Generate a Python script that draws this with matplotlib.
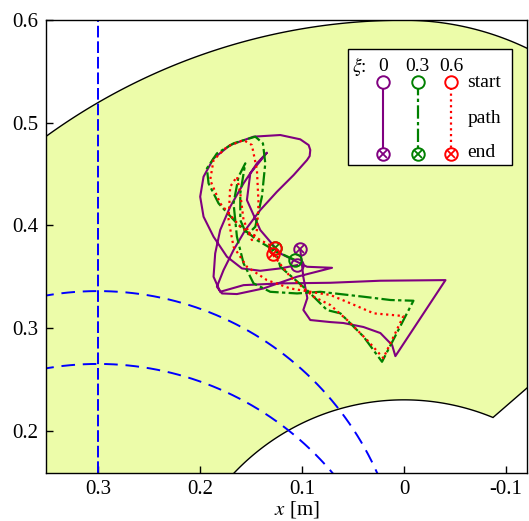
import numpy as np
import matplotlib
matplotlib.use("Agg")
import matplotlib.pyplot as plt
from matplotlib.patches import Polygon, Rectangle

plt.rcParams['font.family'] = ['Liberation Serif', 'DejaVu Serif']
plt.rcParams['mathtext.fontset'] = 'stix'

# ---------------- data ----------------
xi_values = ['0', '0.3', '0.6']
path_colors = ['#800080', '#008000', '#ff0000']

purple_x = [0.1048, 0.1212, 0.1408, 0.1588, 0.1735, 0.1866, 0.1964, 0.1997, 0.1964, 0.1866,
            0.1703, 0.1474, 0.1212, 0.1016, 0.0934, 0.0918, 0.0924, 0.0950, 0.1081, 0.1245,
            0.1408, 0.1555, 0.1670, 0.1768, 0.1833, 0.1784, 0.1637, 0.1376, 0.1048, 0.0705,
            0.0950, 0.1212, 0.1408, 0.1539, 0.1506, 0.1343, 0.1441, 0.1572, 0.1703, 0.1801,
            0.1850, 0.1866, 0.1801, 0.1572, 0.1212, 0.0722, 0.0231, -0.0407, 0.0084, 0.0116,
            0.0231, 0.0397, 0.0594, 0.0721, 0.0918, 0.0986, 0.0947, 0.0986, 0.1016]
purple_y = [0.3613, 0.3581, 0.3558, 0.3581, 0.3695, 0.3890, 0.4085, 0.4280, 0.4475, 0.4653,
            0.4783, 0.4865, 0.4881, 0.4839, 0.4783, 0.4735, 0.4676, 0.4637, 0.4491, 0.4328,
            0.4150, 0.3955, 0.3760, 0.3565, 0.3402, 0.3337, 0.3331, 0.3386, 0.3500, 0.3587,
            0.3597, 0.3727, 0.3955, 0.4247, 0.4507, 0.4709, 0.4605, 0.4410, 0.4182, 0.3955,
            0.3727, 0.3500, 0.3353, 0.3418, 0.3435, 0.3441, 0.3461, 0.3467, 0.2726, 0.2834,
            0.2951, 0.3010, 0.3049, 0.3058, 0.3078, 0.3176, 0.3292, 0.3497, 0.3766]

green_x = [0.1065, 0.1245, 0.1441, 0.1637, 0.1817, 0.1915, 0.1931, 0.1833, 0.1670, 0.1457,
           0.1382, 0.1359, 0.1392, 0.1457, 0.1539, 0.1604, 0.1604, 0.1555, 0.1621, 0.1670,
           0.1637, 0.1572, 0.1474, 0.1310, 0.1048, 0.0820, 0.0395, 0.0132, -0.0093, 0.0215,
           0.0395, 0.0623, 0.0754, 0.0950, 0.1212, 0.1261]
green_y = [0.3662, 0.3743, 0.3857, 0.4020, 0.4215, 0.4410, 0.4556, 0.4702, 0.4800, 0.4865,
           0.4800, 0.4605, 0.4280, 0.3987, 0.3906, 0.4052, 0.4312, 0.4605, 0.4475, 0.4215,
           0.3890, 0.3630, 0.3435, 0.3353, 0.3337, 0.3353, 0.3305, 0.3273, 0.3266, 0.2671,
           0.2915, 0.3143, 0.3175, 0.3370, 0.3597, 0.3776]

red_x = [0.1261, 0.1408, 0.1604, 0.1801, 0.1899, 0.1866, 0.1735, 0.1572, 0.1490, 0.1441,
         0.1425, 0.1441, 0.1490, 0.1572, 0.1604, 0.1637, 0.1703, 0.1719, 0.1670, 0.1539,
         0.1343, 0.1114, 0.0820, 0.0721, 0.0525, 0.0296, 0.0005, 0.0202, 0.0361, 0.0557,
         0.0721, 0.0885, 0.1114, 0.1287]
red_y = [0.3782, 0.3857, 0.3987, 0.4215, 0.4442, 0.4637, 0.4767, 0.4832, 0.4783, 0.4540,
         0.4215, 0.3955, 0.3857, 0.4052, 0.4312, 0.4475, 0.4377, 0.4052, 0.3792, 0.3597,
         0.3467, 0.3386, 0.3337, 0.3322, 0.3241, 0.3143, 0.3117, 0.2707, 0.2883, 0.3078,
         0.3224, 0.3305, 0.3500, 0.3717]

# workspace geometry (m)
outer_radius = 0.60
inner_radius = 0.23
right_arc_center = (0.0, 0.32)
right_arc_radius = 0.28
inner_corner_angle_deg = 112.3
lower_right_end = (-0.16, 0.2755)

# blue dashed reference lines
vline_x = 0.30
blue_arc_cx = 0.30
blue_arc_cy = [0.036, -0.037]
blue_arc_r = [0.300, 0.302]

xlim = (0.3513, -0.1206)
ylim = (0.1589, 0.6004)
xticks = [0.3, 0.2, 0.1, 0.0, -0.1]
xticklabels = ['0.3', '0.2', '0.1', '0', '-0.1']
yticks = [0.2, 0.3, 0.4, 0.5, 0.6]
yticklabels = ['0.2', '0.3', '0.4', '0.5', '0.6']

# ---------------- figure ----------------
fig = plt.figure(figsize=(5.29, 5.21), dpi=100)
ax = fig.add_axes([45.5 / 529, (521 - 472.8) / 521, 481.5 / 529, 453 / 521])
ax.set_xlim(*xlim)
ax.set_ylim(*ylim)

# workspace polygon
th_o = np.radians(np.linspace(0, 90, 200))
outer = np.column_stack([outer_radius * np.cos(th_o), outer_radius * np.sin(th_o)])
th_r = np.radians(np.linspace(90, 140, 80))
right = np.column_stack([right_arc_center[0] + right_arc_radius * np.cos(th_r),
                         right_arc_center[1] + right_arc_radius * np.sin(th_r)])
th_i = np.radians(np.linspace(inner_corner_angle_deg, 0, 200))
inner = np.column_stack([inner_radius * np.cos(th_i), inner_radius * np.sin(th_i)])
poly = np.vstack([outer, right, [lower_right_end], inner])
ax.add_patch(Polygon(poly, closed=True, facecolor='#ecfca9', edgecolor='black',
                     linewidth=1.0, zorder=1))

# blue dashed lines
ax.axvline(vline_x, color='#0000ff', lw=1.4, dashes=(6, 2), zorder=2)
for cy, r in zip(blue_arc_cy, blue_arc_r):
    t = np.radians(np.linspace(0, 180, 400))
    ax.plot(blue_arc_cx + r * np.cos(t), cy + r * np.sin(t), color='#0000ff', lw=1.4,
            dashes=(7, 4), zorder=2)

# paths
styles = [dict(ls='-', lw=1.5),
          dict(dashes=(6, 1.5, 1.5, 1.5), lw=1.6),
          dict(dashes=(1, 1.6), lw=1.6)]
paths = [(purple_x, purple_y), (green_x, green_y), (red_x, red_y)]
for (px, py), c, st in zip(paths, path_colors, styles):
    ax.plot(px, py, color=c, zorder=3, solid_joinstyle='round', **st)
MS = 9
for (px, py), c in zip(paths, path_colors):
    ax.plot(px[0], py[0], marker='o', ms=MS, mfc='none', mec=c, mew=1.4, zorder=4)
    ax.plot(px[-1], py[-1], marker='o', ms=MS, mfc='none', mec=c, mew=1.4, zorder=4)
    ax.plot(px[-1], py[-1], marker='x', ms=MS * 0.6, mec=c, mew=1.3, zorder=4)

# legend (axes fraction)
ax.add_patch(Rectangle((0.629, 0.679), 0.339, 0.256, transform=ax.transAxes,
                       facecolor='white', edgecolor='black', lw=1.0, zorder=5))
leg_x = [0.7013, 0.7730, 0.8428]
y_start, y_end = 0.862, 0.7038
ax.text(0.636, 0.897, r'$\xi$:', transform=ax.transAxes, fontsize=14,
        va='center', ha='left', zorder=6)
for lx, c, st, lab in zip(leg_x, path_colors, styles, xi_values):
    ax.text(lx, 0.897, lab, transform=ax.transAxes, fontsize=14, va='center',
            ha='center', zorder=6)
    ax.plot([lx, lx], [y_start, y_end], color=c, transform=ax.transAxes, zorder=6, **st)
    ax.plot(lx, y_start, marker='o', ms=MS, mfc='white', mec=c, mew=1.4,
            transform=ax.transAxes, zorder=7)
    ax.plot(lx, y_end, marker='o', ms=MS, mfc='white', mec=c, mew=1.4,
            transform=ax.transAxes, zorder=7)
    ax.plot(lx, y_end, marker='x', ms=MS * 0.6, mec=c, mew=1.3,
            transform=ax.transAxes, zorder=7)
for lab, yy in zip(['start', 'path', 'end'], [0.862, 0.783, 0.706]):
    ax.text(0.876, yy, lab, transform=ax.transAxes, fontsize=14, va='center',
            ha='left', zorder=6)

ax.set_xticks(xticks)
ax.set_xticklabels(xticklabels)
ax.set_yticks(yticks)
ax.set_yticklabels(yticklabels)
ax.tick_params(direction='in', length=5, width=1, labelsize=15, top=False, right=False,
               pad=5)
for s in ax.spines.values():
    s.set_linewidth(1.0)
ax.set_xlabel(r'$x$ [m]', fontsize=15, va='top')
ax.xaxis.set_label_coords(0.522, -0.058)

fig.savefig('out.png', dpi=100)
